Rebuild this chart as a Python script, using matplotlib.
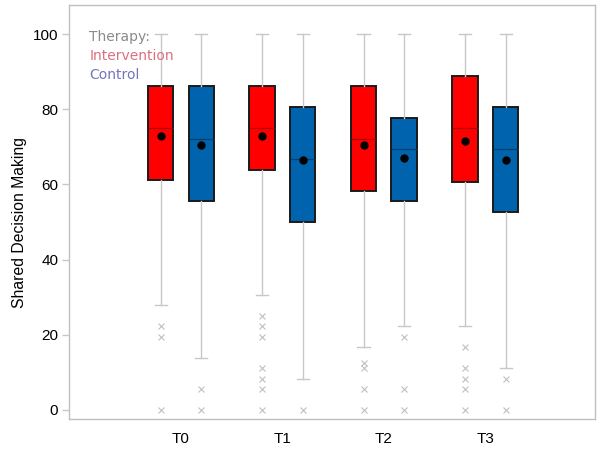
import matplotlib
matplotlib.use("Agg")
import matplotlib.pyplot as plt

times = ["T0", "T1", "T2", "T3"]
groups = ["Intervention", "Control"]

# per time point: [Intervention, Control]
q1 = [[61.1, 55.6], [63.9, 50.0], [58.3, 55.6], [60.7, 52.8]]
med = [[75.0, 72.2], [75.0, 66.7], [72.2, 69.4], [75.0, 69.4]]
q3 = [[86.1, 86.1], [86.1, 80.6], [86.1, 77.8], [88.9, 80.6]]
mean = [[72.9, 70.5], [72.9, 66.5], [70.4, 67.1], [71.6, 66.5]]
whislo = [[27.8, 13.9], [30.6, 8.3], [16.7, 22.2], [22.2, 11.1]]
whishi = [[100, 100], [100, 100], [100, 100], [100, 100]]
fliers = [
    [[22.2, 19.4, 0.0], [5.6, 0.0]],
    [[25.0, 22.2, 19.4, 11.1, 8.3, 5.6, 0.0], [0.0]],
    [[12.5, 11.1, 5.6, 0.0], [19.4, 5.6, 0.0]],
    [[16.7, 11.1, 8.3, 5.6, 0.0], [8.3, 0.0]],
]

face = ["#ff0000", "#0063ad"]
medc = ["#b00000", "#003f70"]
legc = ["#d9707e", "#7474c0"]

fig = plt.figure(figsize=(6, 4.57), dpi=100)
ax = fig.add_axes([0.1155, 0.0825, 0.876, 0.9065])

offsets = [-0.2, 0.2]
for g in range(2):
    stats = []
    pos = []
    for t in range(4):
        stats.append(dict(med=med[t][g], q1=q1[t][g], q3=q3[t][g],
                          whislo=whislo[t][g], whishi=whishi[t][g],
                          fliers=fliers[t][g], mean=mean[t][g]))
        pos.append(t + offsets[g])
    ax.bxp(stats, positions=pos, widths=0.25, patch_artist=True,
           showmeans=True, capwidths=0.12,
           boxprops=dict(facecolor=face[g], edgecolor="#1a1a1a", linewidth=1.4),
           medianprops=dict(color=medc[g], linewidth=0.9),
           whiskerprops=dict(color="#c8c8c8", linewidth=1.0),
           capprops=dict(color="#c8c8c8", linewidth=1.0),
           flierprops=dict(marker="x", markeredgecolor="#c0c0c0", markersize=5, markeredgewidth=0.8),
           meanprops=dict(marker="o", markerfacecolor="black", markeredgecolor="black", markersize=5),
           zorder=3)

ax.set_xlim(-1.1, 4.08)
ax.set_ylim(-2.55, 107.8)
ax.set_xticks(range(4))
ax.set_xticklabels(times, fontsize=11, family="Liberation Sans")
ax.set_yticks([0, 20, 40, 60, 80, 100])
ax.set_yticklabels(["0", "20", "40", "60", "80", "100"], fontsize=11, family="Liberation Sans")
ax.tick_params(axis="x", length=0, pad=9)
ax.tick_params(axis="y", length=5, color="#c8c8c8", width=1, pad=3)
for s in ax.spines.values():
    s.set_color("#c0c0c0")
    s.set_linewidth(1.0)
ax.set_ylabel("Shared Decision Making", fontsize=11.3, family="Liberation Sans")
ax.yaxis.set_label_coords(-0.08, 0.476)

tx = 0.038
ax.text(tx, 0.94, "Therapy:", transform=ax.transAxes, color="#8a8a8a", fontsize=10,
        family="DejaVu Sans", va="top")
ax.text(tx, 0.894, groups[0], transform=ax.transAxes, color=legc[0], fontsize=10,
        family="DejaVu Sans", va="top")
ax.text(tx, 0.848, groups[1], transform=ax.transAxes, color=legc[1], fontsize=10,
        family="DejaVu Sans", va="top")

fig.savefig("out.png", dpi=100)
